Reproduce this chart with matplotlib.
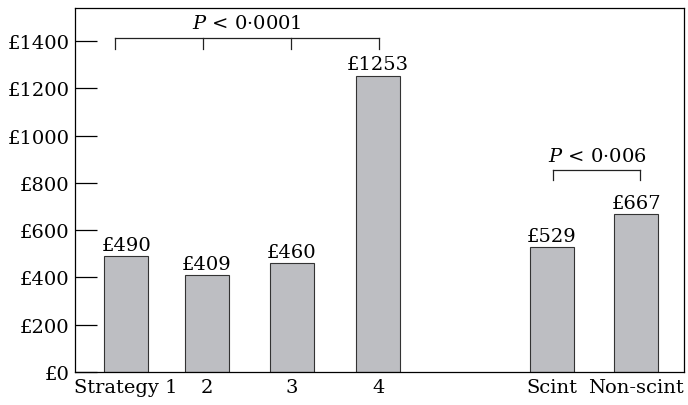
import numpy as np
import matplotlib
matplotlib.use("Agg")
from matplotlib import pyplot as plt

# cost per strategy, plus scint / non-scint groups
labels = ["Strategy 1", "2", "3", "4", "Scint", "Non-scint"]
costs = [490, 409, 460, 1253, 529, 667]
positions = [0, 0.94, 1.94, 2.95, 4.98, 5.97]
yticks = [0, 200, 400, 600, 800, 1000, 1200, 1400]

plt.rcParams["font.family"] = "DejaVu Serif"
plt.rcParams["mathtext.fontset"] = "dejavuserif"

fig = plt.figure(figsize=(6.88, 4.06), dpi=100)
ax = fig.add_axes([75 / 688, (406 - 373) / 406, (684 - 75) / 688, (373 - 9) / 406])

ax.bar(positions, costs, width=0.515, color="#bdbec2", edgecolor="#333333", linewidth=0.8)
for x, c in zip(positions, costs):
    ax.text(x, c + 10, "£%d" % c, ha="center", va="bottom", fontsize=14)

ax.set_xlim(-0.6, 6.53)
ax.set_ylim(0, 1540)
ax.set_yticks(yticks)
ax.set_yticklabels(["£%d" % v for v in yticks], fontsize=14)
ax.tick_params(axis="y", direction="in", length=15.5, width=0.9, pad=4)
ax.set_xticks(positions)
ax.set_xticklabels(labels, fontsize=14)
ax.tick_params(axis="x", length=0, pad=4)
for s in ax.spines.values():
    s.set_linewidth(0.9)

# significance brackets
def bracket(xs, y, drop, text, ty):
    ax.plot([xs[0], xs[-1]], [y, y], color="#222222", lw=0.9)
    for x in xs:
        ax.plot([x, x], [y, y - drop], color="#222222", lw=0.9)
    ax.text((xs[0] + xs[-1]) / 2, ty, text, ha="center", va="center", fontsize=14)

bracket([-0.13, 0.9, 1.93, 2.96], 1412, 44, r"$\mathit{P}$ < 0·0001", 1475)
bracket([5.0, 6.02], 855, 42, r"$\mathit{P}$ < 0·006", 915)

fig.savefig("out.png", dpi=100)
